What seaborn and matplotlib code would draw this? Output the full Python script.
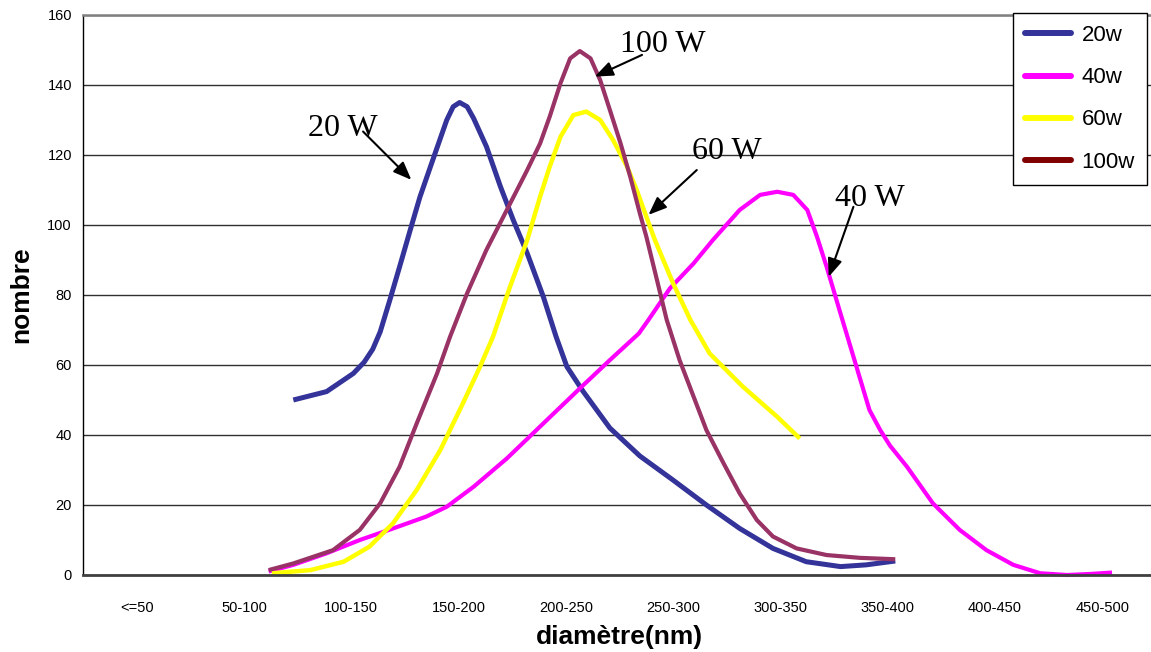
import pandas as pd
import seaborn as sns
import matplotlib.pyplot as plt
from matplotlib.lines import Line2D

# categories on the x axis
categories = ['<=50', '50-100', '100-150', '150-200', '200-250',
              '250-300', '300-350', '350-400', '400-450', '450-500']

# curves (x = position along the category axis)
x_20w = [1.46, 1.77, 2.02, 2.12, 2.20, 2.27, 2.36, 2.45, 2.55, 2.64, 2.76, 2.89, 2.95, 3.01,
         3.08, 3.14, 3.26, 3.39, 3.51, 3.64, 3.79, 3.91, 4.01, 4.16, 4.41, 4.69, 5.00,
         5.31, 5.62, 5.93, 6.24, 6.56, 6.80, 7.07]
y_20w = [50, 52.4, 57.6, 60.8, 64.5, 69.5, 78.6, 88, 98.6, 108, 118.6, 130, 133.8, 135,
         133.8, 130.5, 122.4, 111, 101.4, 91.9, 79.5, 68, 59.5, 52.5, 42, 34, 27.1,
         20, 13.3, 7.6, 3.8, 2.4, 2.9, 4.0]

x_40w = [1.23, 1.46, 1.77, 2.08, 2.39, 2.70, 2.89, 3.14, 3.45, 3.79, 4.13, 4.41, 4.68,
         4.77, 4.97, 5.19, 5.37, 5.62, 5.81, 5.97, 6.12, 6.25, 6.34, 6.43, 6.55, 6.68,
         6.83, 6.93, 7.02, 7.18, 7.42, 7.67, 7.92, 8.17, 8.42, 8.67, 8.89, 9.09]
y_40w = [1, 2.9, 6.2, 10, 13.3, 16.7, 19.5, 25.2, 33.3, 43.3, 53.3, 61.4, 69,
         72.9, 81.9, 89, 95.7, 104.3, 108.6, 109.5, 108.6, 104.3, 96.7, 88.1, 75.7, 62.4,
         47.1, 41.4, 37, 30.9, 20.5, 12.9, 7.1, 2.9, 0.5, 0, 0.3, 0.7]

x_60w = [1.26, 1.62, 1.93, 2.17, 2.39, 2.61, 2.83, 3.04, 3.20, 3.32, 3.48, 3.64, 3.76,
         3.85, 3.95, 4.07, 4.19, 4.32, 4.44, 4.57, 4.66, 4.75, 4.83, 5.00, 5.16, 5.34,
         5.65, 5.97, 6.18]
y_60w = [0.5, 1.4, 3.8, 8.1, 14.8, 24.3, 35.7, 49, 59.5, 68, 82.4, 95.7, 108.1,
         116.7, 125.2, 131.4, 132.4, 130, 124.3, 116.7, 110, 102.4, 95.7, 83.3, 72.9, 63.3,
         53.8, 45.2, 39]

x_100w = [1.23, 1.46, 1.83, 2.08, 2.27, 2.45, 2.61, 2.80, 2.92, 3.08, 3.26, 3.45, 3.64,
          3.76, 3.85, 3.95, 4.04, 4.13, 4.23, 4.32, 4.41, 4.51, 4.60, 4.69, 4.75, 4.94,
          5.06, 5.31, 5.47, 5.62, 5.78, 5.93, 6.15, 6.43, 6.74, 7.07]
y_100w = [1.4, 3.3, 7.1, 12.9, 20.5, 30.9, 43.3, 57.6, 68, 80.5, 92.9, 104.3, 115.7,
          123.3, 131, 140.5, 147.6, 149.7, 147.6, 141.4, 132.9, 123.3, 113.8, 103.3, 96.7, 72.9,
          61.4, 41.4, 31.9, 23.3, 15.7, 11, 7.6, 5.7, 4.9, 4.5]

series = ['20w', '40w', '60w', '100w']
line_colors = ['#333399', '#FF00FF', '#FFFF00', '#993366']
legend_colors = ['#333399', '#FF00FF', '#FFFF00', '#800000']
line_widths = [3.6, 3.0, 3.2, 3.0]

sns.set_style('white')
plt.rcParams['font.family'] = ['Liberation Sans', 'DejaVu Sans']
plt.rcParams['text.color'] = 'black'
plt.rcParams['axes.labelcolor'] = 'black'
plt.rcParams['xtick.color'] = 'black'
plt.rcParams['ytick.color'] = 'black'

fig, ax = plt.subplots(figsize=(11.51, 6.52), dpi=100)
fig.subplots_adjust(left=83 / 1151, right=1156 / 1151, bottom=1 - 575 / 652, top=1 - 15 / 652)

data = [(x_20w, y_20w), (x_40w, y_40w), (x_60w, y_60w), (x_100w, y_100w)]
for (xs, ys), name, col, lw in zip(data, series, line_colors, line_widths):
    df = pd.DataFrame({'pos': xs, 'nombre': ys})
    sns.lineplot(data=df, x='pos', y='nombre', color=col, linewidth=lw,
                 sort=False, estimator=None, ax=ax, clip_on=False,
                 solid_capstyle='butt', solid_joinstyle='round')

ax.set_xlim(-0.5, 9.5)
ax.set_ylim(0, 160)
ax.set_yticks(range(0, 161, 20))
ax.yaxis.grid(True, color='#303030', linewidth=1)
ax.set_axisbelow(True)

ax.set_xticks(range(len(categories)))
ax.set_xticklabels(categories, fontsize=10.5)
ax.set_xticks([i - 0.5 for i in range(len(categories) + 1)], minor=True)
ax.tick_params(axis='x', which='major', length=0, pad=19)
ax.tick_params(axis='x', which='minor', length=5, width=1, direction='out', color='#404040')
ax.tick_params(axis='y', length=5, width=1, direction='out', labelsize=10.5, pad=3)

ax.spines['left'].set_color('black')
ax.spines['left'].set_linewidth(1)
ax.spines['bottom'].set_color('#404040')
ax.spines['bottom'].set_linewidth(2)
ax.spines['top'].set_color('#808080')
ax.spines['top'].set_linewidth(1.8)
ax.spines['right'].set_visible(False)

ax.set_xlabel('diamètre(nm)', fontsize=19, fontweight='bold', labelpad=7)
ax.set_ylabel('nombre', fontsize=19, fontweight='bold', labelpad=10)

# callouts
notes = [('20 W', 1.92, 127.5, 2.11, 126.7, 2.56, 112.9),
         ('100 W', 4.90, 151.5, 4.71, 148.6, 4.27, 142.4),
         ('60 W', 5.50, 121, 5.22, 115.7, 4.77, 102.9),
         ('40 W', 6.83, 107.5, 6.68, 105.2, 6.45, 85.2)]
for txt, tx, ty, sx, sy, ex, ey in notes:
    ax.text(tx, ty, txt, ha='center', va='center', fontsize=23,
            family=['Liberation Serif', 'DejaVu Serif'])
    ax.annotate('', xy=(ex, ey), xytext=(sx, sy),
                arrowprops=dict(arrowstyle='-|>,head_length=0.55,head_width=0.22',
                                color='black', lw=1.5, mutation_scale=20,
                                shrinkA=0, shrinkB=0))

handles = [Line2D([], [], color=c, lw=4.3) for c in legend_colors]
leg = ax.legend(handles, series, loc='upper right',
                bbox_to_anchor=((1147 - 83) / 1073, (575 - 13) / 560),
                borderaxespad=0, fontsize=16, handlelength=2.1, handletextpad=0.45,
                borderpad=0.55, labelspacing=0.95, fancybox=False, framealpha=1)
leg.get_frame().set_edgecolor('black')
leg.get_frame().set_linewidth(1)

plt.savefig('out.png', dpi=100)
